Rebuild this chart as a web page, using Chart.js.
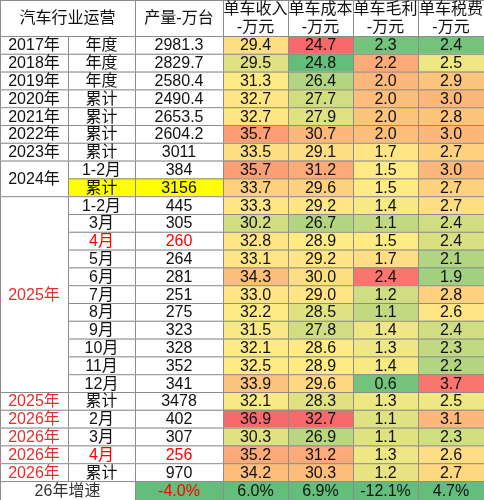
<!DOCTYPE html>
<html><head><meta charset="utf-8">
<script src="https://cdn.jsdelivr.net/npm/chart.js@4/dist/chart.umd.min.js"></script>
<style>html,body{margin:0;padding:0;background:#fff}#w{width:484px;height:500px}</style>
</head><body><div id="w"><canvas id="c" width="484" height="500"></canvas></div>
<script>
// ---- data ----
const headers = ['汽车行业运营', '产量-万台', ['单车收入','-万元'], ['单车成本','-万元'], ['单车毛利','-万元'], ['单车税费','-万元']];
const yearLabels = ['2017年','2018年','2019年','2020年','2021年','2022年','2023年','2024年','2024年',
  '2025年','2025年','2025年','2025年','2025年','2025年','2025年','2025年','2025年','2025年','2025年',
  '2025年','2026年','2026年','2026年','2026年'];
const periodLabels = ['年度','年度','年度','累计','累计','累计','累计','1-2月','累计',
  '1-2月','3月','4月','5月','6月','7月','8月','9月','10月','11月','12月',
  '累计','2月','3月','4月','累计'];
const production = ['2981.3','2829.7','2580.4','2490.4','2653.5','2604.2','3011','384','3156',
  '445','305','260','264','281','251','275','323','328','352','341','3478','402','307','256','970'];
const income = [29.4,29.5,31.3,32.7,32.7,35.7,33.5,35.7,33.7,33.3,30.2,32.8,33.1,34.3,33.0,32.2,31.5,32.1,32.5,33.9,32.1,36.9,30.3,35.2,34.2];
const cost = [24.7,24.8,26.4,27.7,27.9,30.7,29.1,31.2,29.6,29.2,26.7,28.9,29.2,30.0,29.0,28.5,27.8,28.6,28.9,29.6,28.3,32.7,26.9,31.2,30.3];
const margin = [2.3,2.2,2.0,2.0,2.0,2.0,1.7,1.5,1.5,1.4,1.1,1.5,1.7,2.4,1.2,1.1,1.4,1.3,1.4,0.6,1.3,1.1,1.1,1.3,1.2];
const tax = [2.4,2.5,2.9,3.0,2.8,3.0,2.7,3.0,2.7,2.7,2.4,2.4,2.1,1.9,2.8,2.6,2.4,2.3,2.2,3.7,2.5,3.1,2.3,2.6,2.7];
const growthLabel = '26年增速';
const growth = ['-4.0%','6.0%','6.9%','-12.1%','4.7%'];
// conditional-format heat (-1 green, 0 yellow, 1 red)
const heatIncome = [0.1,-0.2,0,0.05,0.05,0.6,0.1,0.6,0.2,0.05,-0.3,0.05,0.05,0.35,0.05,0,-0.05,0,0,0.3,-0.05,1,-0.2,0.5,0.35];
const heatCost = [1,-1,-0.5,-0.3,-0.2,0.4,0.1,0.5,0.2,0.05,-0.5,0,0.05,0.1,0.05,-0.2,-0.3,0,0,0.15,-0.2,1,-0.45,0.5,0.35];
const heatMargin = [-0.9,0.5,0.4,0.35,0.3,0.35,0.05,0,0,-0.05,-0.4,0,0.1,0.9,-0.3,-0.4,-0.1,-0.1,-0.05,-0.9,-0.1,-0.2,-0.2,-0.1,-0.15];
const heatTax = [-0.9,-0.1,0.3,0.4,0.3,0.4,0.2,0.4,0.2,0.1,-0.3,-0.25,-0.5,-0.6,0.2,0.05,-0.3,-0.4,-0.5,0.9,-0.1,0.4,-0.3,0.1,0.15];

// ---- layout (scale units) ----
const colEdges = [0,68,135,223,288,353,418,484];
const headerH = 36, rowH = 17.8;
const redYearRows = new Set([9,20,21,22,23,24]);
const redPeriodRows = new Set([11,23]);
const highlightRows = new Set([8]);

function mix(a,b,t){return a.map((v,i)=>Math.round(v+(b[i]-v)*t));}
function heatColor(h){
  const G=[99,190,123],Y=[255,235,132],R=[248,105,107];
  const c = h<0 ? mix(Y,G,-h) : mix(Y,R,h);
  return `rgb(${c[0]},${c[1]},${c[2]})`;
}

const tablePlugin = {
  id:'table',
  afterDraw(chart){
    const ctx = chart.ctx, X = chart.scales.x, Y = chart.scales.y;
    const FONT = '"Liberation Sans","Noto Sans CJK SC",sans-serif';
    function cell(c0,c1,y0,y1,fill,lines,color){
      const x0=X.getPixelForValue(colEdges[c0]), x1=X.getPixelForValue(colEdges[c1]);
      const p0=Y.getPixelForValue(y0), p1=Y.getPixelForValue(y1);
      if(fill){ctx.fillStyle=fill;ctx.fillRect(x0,p0,x1-x0,p1-p0);}
      ctx.strokeStyle='#8c8c8c';ctx.lineWidth=1;ctx.strokeRect(x0+0.5,p0+0.5,x1-x0,p1-p0);
      if(lines){
        ctx.fillStyle=color||'#111';ctx.font='16px '+FONT;ctx.textAlign='center';ctx.textBaseline='middle';
        const arr=Array.isArray(lines)?lines:[lines];
        const lh=18, mid=(p0+p1)/2+1;
        arr.forEach((t,i)=>ctx.fillText(t,(x0+x1)/2,mid+(i-(arr.length-1)/2)*lh));
      }
    }
    ctx.save();
    cell(0,2,0,headerH,'#fff',headers[0]);
    cell(2,3,0,headerH,'#fff',headers[1]);
    for(let k=2;k<6;k++) cell(k+1,k+2,0,headerH,'#fff',headers[k]);
    const rowTop=i=>headerH+i*rowH;
    let i=0;
    while(i<yearLabels.length){
      let j=i;
      if(i===7) j=8; else if(i===9) j=19;
      cell(0,1,rowTop(i),rowTop(j+1),'#fff',yearLabels[i],redYearRows.has(i)?'#e03030':'#111');
      i=j+1;
    }
    const heats=[heatIncome,heatCost,heatMargin,heatTax];
    const vals=[income,cost,margin,tax];
    for(let r=0;r<periodLabels.length;r++){
      const hl=highlightRows.has(r)?'#ffff00':'#fff';
      const pc=redPeriodRows.has(r)?'#ff0000':'#111';
      cell(1,2,rowTop(r),rowTop(r+1),hl,periodLabels[r],pc);
      cell(2,3,rowTop(r),rowTop(r+1),hl,production[r],pc);
      for(let k=0;k<4;k++) cell(3+k,4+k,rowTop(r),rowTop(r+1),heatColor(heats[k][r]),vals[k][r].toFixed(1));
    }
    const n=periodLabels.length;
    cell(0,2,rowTop(n),500,'#fff',growthLabel,'#333');
    cell(2,3,rowTop(n),500,heatColor(-1),growth[0],'#ff0000');
    for(let k=1;k<5;k++) cell(2+k,3+k,rowTop(n),500,heatColor(-1),growth[k]);
    ctx.restore();
  }
};

new Chart(document.getElementById('c'),{
  type:'scatter',
  data:{datasets:[{data:[]}]},
  options:{
    responsive:false,animation:false,
    layout:{padding:0},
    plugins:{legend:{display:false},tooltip:{enabled:false}},
    scales:{
      x:{type:'linear',min:0,max:484,display:false},
      y:{type:'linear',min:0,max:500,reverse:true,display:false}
    }
  },
  plugins:[tablePlugin]
});
</script></body></html>
